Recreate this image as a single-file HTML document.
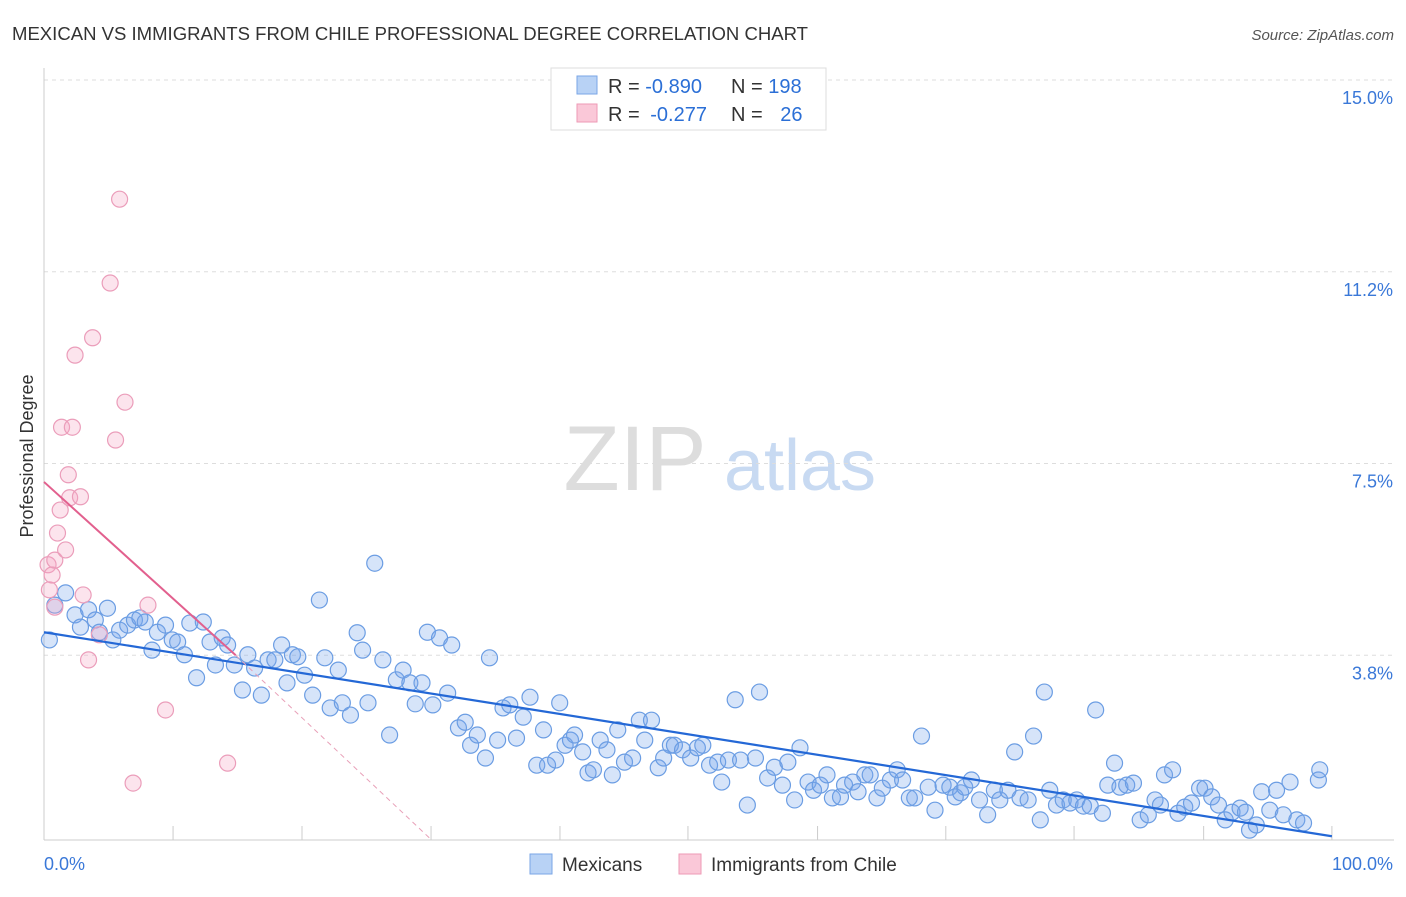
<!DOCTYPE html>
<html><head><meta charset="utf-8"><style>
body{margin:0;background:#fff;font-family:"Liberation Sans",sans-serif}
svg text{font-family:"Liberation Sans",sans-serif}
</style></head><body>
<svg id="chart" width="1406" height="892" xmlns="http://www.w3.org/2000/svg">
<text x="12" y="40" font-size="18" fill="#333" textLength="796" lengthAdjust="spacingAndGlyphs">MEXICAN VS IMMIGRANTS FROM CHILE PROFESSIONAL DEGREE CORRELATION CHART</text>
<text x="1394" y="40" font-size="15" fill="#555" text-anchor="end" font-style="italic">Source: ZipAtlas.com</text>
<text x="33" y="456" font-size="18" fill="#333" text-anchor="middle" transform="rotate(-90 33 456)">Professional Degree</text>
<g>
<text x="635" y="490" font-size="92" fill="#ddd" font-family="Liberation Serif" text-anchor="middle">ZIP</text>
<text x="800" y="490" font-size="72" fill="#c8daf2" text-anchor="middle">atlas</text>
</g>
<g id="grid"></g><g id="axes"></g><g id="marks"></g>
<g>
<rect x="551" y="68" width="275" height="62" fill="#fff" stroke="#ddd"/>
<rect x="577" y="76" width="20" height="18" fill="#b8d2f5" stroke="#7aa6e6"/>
<rect x="577" y="104" width="20" height="18" fill="#fac8d8" stroke="#ee9ab6"/>
<text x="608" y="93" font-size="20" fill="#333">R = <tspan fill="#2b6fd6">-0.890</tspan></text>
<text x="731" y="93" font-size="20" fill="#333">N = <tspan fill="#2b6fd6">198</tspan></text>
<text x="608" y="121" font-size="20" fill="#333">R = <tspan fill="#2b6fd6" dx="5">-0.277</tspan></text>
<text x="731" y="121" font-size="20" fill="#333">N = <tspan fill="#2b6fd6" dx="12">26</tspan></text>
</g>
<g>
<rect x="530" y="854" width="22" height="20" fill="#b8d2f5" stroke="#7aa6e6"/>
<text x="562" y="871" font-size="19" fill="#333">Mexicans</text>
<rect x="679" y="854" width="22" height="20" fill="#fac8d8" stroke="#ee9ab6"/>
<text x="711" y="871" font-size="19" fill="#333">Immigrants from Chile</text>
</g>
</svg>
<script>
const yTicks=[3.75,7.5,11.25,15];
const yTickLabels=["3.8%","7.5%","11.2%","15.0%"];
const xTicks=[9.56,19.11,28.67,38.22,47.7,57.3,66.8,76.3,85.9,95.4];
const blueX=[0.4,0.8,1.6,2.3,2.7,3.3,3.8,4.1,4.7,5.1,5.6,6.2,6.7,7.1,7.5,8.0,8.4,9.0,9.5,9.9,10.4,10.8,11.3,11.8,12.3,12.7,13.2,13.6,14.1,14.7,15.1,15.6,16.1,16.6,17.1,17.6,18.0,18.4,18.8,19.3,19.9,20.4,20.8,21.2,21.8,22.1,22.7,23.2,23.6,24.0,24.5,25.1,25.6,26.1,26.6,27.1,27.5,28.0,28.4,28.8,29.3,29.9,30.2,30.7,31.2,31.6,32.1,32.7,33.0,33.6,34.0,34.5,35.0,35.5,36.0,36.5,37.0,37.3,37.9,38.2,38.6,39.0,39.3,39.9,40.3,40.7,41.2,41.7,42.1,42.5,43.0,43.6,44.1,44.5,45.0,45.5,45.9,46.4,46.7,47.3,47.9,48.4,48.8,49.3,49.9,50.2,50.7,51.2,51.6,52.1,52.7,53.0,53.6,54.1,54.7,55.1,55.6,56.0,56.6,57.0,57.5,58.0,58.4,59.0,59.3,59.9,60.3,60.8,61.2,61.7,62.1,62.7,63.2,63.6,64.1,64.5,65.0,65.5,66.0,66.6,67.1,67.5,67.9,68.2,68.7,69.3,69.9,70.4,70.8,71.4,71.9,72.3,72.9,73.3,73.8,74.1,74.5,75.0,75.5,76.0,76.5,77.0,77.5,77.9,78.4,78.8,79.3,79.7,80.2,80.7,81.2,81.8,82.3,82.7,83.0,83.6,84.0,84.5,85.0,85.6,86.0,86.5,87.0,87.5,88.0,88.6,89.0,89.3,89.8,90.2,90.8,91.3,91.8,92.3,92.8,93.3,94.4,94.5];
const blueY=[4.05,4.73,4.97,4.54,4.30,4.64,4.44,4.20,4.67,4.05,4.24,4.34,4.44,4.48,4.40,3.85,4.20,4.34,4.05,4.01,3.76,4.38,3.31,4.40,4.01,3.56,4.09,3.95,3.56,3.07,3.76,3.50,2.97,3.66,3.66,3.95,3.21,3.76,3.72,3.36,2.97,4.83,3.70,2.72,3.46,2.82,2.58,4.19,3.85,2.82,5.55,3.66,2.19,3.27,3.46,3.21,2.80,3.21,4.20,2.78,4.09,3.01,3.95,2.33,2.44,1.99,2.19,1.74,3.70,2.09,2.72,2.78,2.13,2.54,2.93,1.60,2.29,1.60,1.70,2.82,1.99,2.09,2.19,1.86,1.45,1.51,2.09,1.90,1.41,2.29,1.66,1.74,2.48,2.09,2.48,1.55,1.74,1.99,1.99,1.90,1.74,1.94,1.99,1.60,1.66,1.27,1.70,2.88,1.70,0.82,1.74,3.03,1.35,1.56,1.21,1.66,0.92,1.94,1.27,1.11,1.21,1.41,0.96,0.98,1.21,1.27,1.08,1.41,1.41,0.96,1.15,1.31,1.51,1.31,0.96,0.96,2.17,1.17,0.72,1.21,1.17,0.98,1.06,1.17,1.31,0.92,0.63,1.11,0.92,1.11,1.86,0.96,0.92,2.17,0.53,3.03,1.11,0.82,0.92,0.86,0.92,0.80,0.80,2.68,0.66,1.21,1.64,1.17,1.21,1.25,0.53,0.63,0.92,0.82,1.41,1.51,0.66,0.78,0.86,1.15,1.15,0.98,0.82,0.53,0.68,0.76,0.68,0.33,0.43,1.08,0.72,1.11,0.63,1.27,0.53,0.47,1.31,1.51];
const pinkX=[0.8,0.4,0.3,0.6,0.8,1.0,1.2,1.3,2.1,1.9,1.8,2.7,1.6,2.3,2.9,3.3,4.1,3.6,4.9,5.3,5.6,6.0,7.7,9.0,6.6,13.6];
const pinkY=[4.69,5.03,5.52,5.32,5.61,6.14,6.59,8.21,8.21,6.83,7.28,6.85,5.81,9.62,4.93,3.66,4.15,9.96,11.03,7.96,12.67,8.70,4.73,2.68,1.25,1.64];
const blueTrend=[[0,4.20],[95.4,0.21]];
const pinkTrendSolid=[[0,7.14],[14.2,3.75]];
const pinkTrendDash=[[14.2,3.75],[28.7,0.14]];

const NS="http://www.w3.org/2000/svg";
const X=v=>44+v*13.5, Y=v=>847-v*51.13;
function mk(tag,attrs,parent){const e=document.createElementNS(NS,tag);for(const k in attrs)e.setAttribute(k,attrs[k]);document.getElementById(parent).appendChild(e);return e;}
yTicks.forEach((t,i)=>{
 const g=mk('line',{x1:44,x2:1394,y1:Y(t),y2:Y(t),stroke:'#ddd','stroke-dasharray':'4 4'},'grid');
 
 
 const l=mk('text',{x:1393,y:Y(t)+24,'font-size':18,fill:'#3a78d8','text-anchor':'end'},'axes');
 l.textContent=yTickLabels[i];
 
 
});
const ya=mk('line',{x1:44,x2:44,y1:68,y2:840,stroke:'#ccc'},'axes');


const xa=mk('line',{x1:44,x2:1394,y1:840,y2:840,stroke:'#ccc'},'axes');


xTicks.forEach(t=>{
 const k=mk('line',{x1:X(t),x2:X(t),y1:826,y2:840,stroke:'#ccc'},'axes');
 
 
});
const x0=mk('text',{x:44,y:870,'font-size':18,fill:'#3a78d8'},'axes');x0.textContent='0.0%';


const x1=mk('text',{x:1393,y:870,'font-size':18,fill:'#3a78d8','text-anchor':'end'},'axes');x1.textContent='100.0%';


blueX.forEach((v,i)=>{
 const c=mk('circle',{cx:X(v),cy:Y(blueY[i]),r:8,fill:'rgba(120,165,235,0.3)',stroke:'#6b9de3','stroke-width':1.2},'marks');
 
 
});
pinkX.forEach((v,i)=>{
 const c=mk('circle',{cx:X(v),cy:Y(pinkY[i]),r:8,fill:'rgba(245,165,195,0.3)',stroke:'#eb9dba','stroke-width':1.2},'marks');
 
 
});
const bl=mk('line',{x1:X(blueTrend[0][0]),y1:Y(blueTrend[0][1]),x2:X(blueTrend[1][0]),y2:Y(blueTrend[1][1]),stroke:'#2468d6','stroke-width':2.2},'marks');


const pl=mk('line',{x1:X(pinkTrendSolid[0][0]),y1:Y(pinkTrendSolid[0][1]),x2:X(pinkTrendSolid[1][0]),y2:Y(pinkTrendSolid[1][1]),stroke:'#e2608e','stroke-width':2},'marks');


const pd=mk('line',{x1:X(pinkTrendDash[0][0]),y1:Y(pinkTrendDash[0][1]),x2:X(pinkTrendDash[1][0]),y2:Y(pinkTrendDash[1][1]),stroke:'#e8a0b8','stroke-width':1,'stroke-dasharray':'5 4'},'marks');


</script>
</body></html>
